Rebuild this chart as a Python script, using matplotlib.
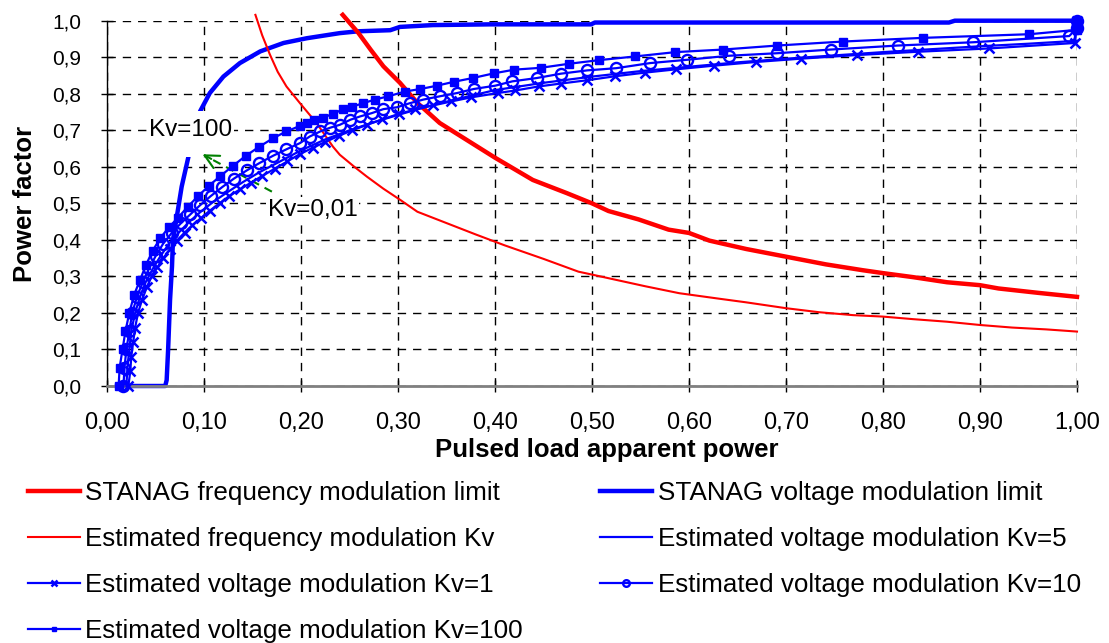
import matplotlib
matplotlib.use('Agg')
import matplotlib.pyplot as plt
from matplotlib.patches import Rectangle
import numpy as np

plt.rcParams['font.family'] = ['Liberation Sans', 'DejaVu Sans']

# STANAG limits
stanag_f_x = [0.243, 0.259, 0.272, 0.285, 0.302, 0.32, 0.343, 0.367, 0.4, 0.439, 0.474, 0.5,
              0.517, 0.548, 0.579, 0.6, 0.621, 0.659, 0.7, 0.741, 0.779, 0.8, 0.831, 0.866,
              0.9, 0.919, 0.96, 1.0]
stanag_f_y = [1.016, 0.967, 0.92, 0.875, 0.83, 0.775, 0.72, 0.68, 0.625, 0.564, 0.528, 0.5,
              0.479, 0.456, 0.428, 0.419, 0.398, 0.375, 0.354, 0.333, 0.317, 0.309, 0.298, 0.284,
              0.276, 0.267, 0.255, 0.244]

stanag_v_x = [0.0103, 0.03, 0.06, 0.0615, 0.063, 0.065, 0.067, 0.068, 0.072, 0.077, 0.084, 0.09,
              0.096, 0.106, 0.12, 0.137, 0.158, 0.182, 0.206, 0.24, 0.259, 0.292, 0.302, 0.336,
              0.395, 0.499, 0.503, 0.868, 0.874, 1.0]
stanag_v_y = [0.0, 0.0, 0.0, 0.016, 0.099, 0.236, 0.327, 0.40, 0.464, 0.546, 0.628, 0.69,
              0.752, 0.802, 0.847, 0.884, 0.916, 0.939, 0.952, 0.966, 0.971, 0.974, 0.983, 0.988,
              0.99, 0.99, 0.995, 0.995, 1.0, 1.0]

# estimated frequency modulation
est_f_x = [0.153, 0.16, 0.168, 0.176, 0.185, 0.199, 0.216, 0.233, 0.24, 0.255, 0.268, 0.285,
           0.302, 0.32, 0.35, 0.38, 0.41, 0.45, 0.486, 0.5, 0.555, 0.59, 0.631, 0.659, 0.7,
           0.734, 0.769, 0.8, 0.831, 0.866, 0.9, 0.933, 0.968, 1.0]
est_f_y = [1.016, 0.96, 0.907, 0.86, 0.82, 0.774, 0.72, 0.655, 0.633, 0.60, 0.573, 0.54,
           0.51, 0.477, 0.446, 0.415, 0.385, 0.348, 0.313, 0.305, 0.273, 0.254, 0.239, 0.229, 0.213,
           0.202, 0.194, 0.19, 0.183, 0.176, 0.167, 0.16, 0.155, 0.149]

# estimated voltage modulation
kv1_x = [0.022, 0.024, 0.025, 0.027, 0.029, 0.032, 0.036, 0.041, 0.046, 0.052, 0.058, 0.065,
         0.072, 0.080, 0.088, 0.097, 0.106, 0.116, 0.126, 0.137, 0.148, 0.160, 0.173, 0.186,
         0.199, 0.212, 0.225, 0.239, 0.253, 0.268, 0.284, 0.301, 0.318, 0.336, 0.355, 0.375,
         0.403, 0.421, 0.445, 0.468, 0.495, 0.524, 0.555, 0.587, 0.626, 0.669, 0.715, 0.773,
         0.836, 0.909, 0.998, 1.0]
kv1_y = [0.0, 0.04, 0.08, 0.12, 0.16, 0.20, 0.235, 0.27, 0.30, 0.325, 0.35, 0.375,
         0.398, 0.42, 0.44, 0.46, 0.48, 0.50, 0.52, 0.538, 0.556, 0.575, 0.595, 0.615,
         0.635, 0.652, 0.668, 0.685, 0.70, 0.715, 0.73, 0.745, 0.757, 0.768, 0.779, 0.79,
         0.802, 0.809, 0.82, 0.828, 0.837, 0.848, 0.858, 0.867, 0.877, 0.887, 0.896, 0.906,
         0.915, 0.924, 0.939, 1.0]

kv5_x = [0.02, 0.021, 0.023, 0.025, 0.029, 0.034, 0.04, 0.047, 0.055, 0.064, 0.074, 0.085,
         0.097, 0.11, 0.125, 0.14, 0.157, 0.175, 0.2, 0.225, 0.25, 0.275, 0.3, 0.33, 0.36,
         0.4, 0.45, 0.5, 0.55, 0.6, 0.65, 0.7, 0.75, 0.8, 0.85, 0.9, 0.95, 1.0]
kv5_y = [0.0, 0.05, 0.10, 0.15, 0.20, 0.245, 0.285, 0.32, 0.355, 0.39, 0.42, 0.45,
         0.478, 0.505, 0.532, 0.558, 0.585, 0.61, 0.645, 0.675, 0.70, 0.722, 0.742, 0.765, 0.785,
         0.81, 0.83, 0.847, 0.862, 0.874, 0.886, 0.896, 0.905, 0.914, 0.922, 0.93, 0.937, 0.945]

kv10_x = [0.017, 0.018, 0.020, 0.023, 0.026, 0.031, 0.037, 0.043, 0.050, 0.058, 0.067, 0.076,
          0.086, 0.096, 0.107, 0.119, 0.131, 0.144, 0.157, 0.171, 0.185, 0.199, 0.209, 0.22,
          0.23, 0.24, 0.251, 0.261, 0.273, 0.285, 0.299, 0.312, 0.326, 0.343, 0.361, 0.378,
          0.4, 0.418, 0.443, 0.468, 0.495, 0.525, 0.56, 0.598, 0.641, 0.691, 0.746, 0.815,
          0.893, 0.992, 1.0, 1.0]
kv10_y = [0.0, 0.05, 0.10, 0.15, 0.20, 0.245, 0.285, 0.32, 0.355, 0.39, 0.42, 0.445,
          0.47, 0.495, 0.52, 0.545, 0.568, 0.59, 0.61, 0.63, 0.648, 0.665, 0.683, 0.697,
          0.707, 0.715, 0.729, 0.738, 0.747, 0.758, 0.763, 0.774, 0.784, 0.793, 0.802, 0.813,
          0.822, 0.834, 0.843, 0.855, 0.864, 0.87, 0.884, 0.893, 0.904, 0.911, 0.921, 0.932,
          0.941, 0.958, 0.98, 1.0]

kv100_x = [0.012, 0.013, 0.016, 0.019, 0.023, 0.028, 0.034, 0.040, 0.047, 0.055, 0.064, 0.073,
           0.083, 0.094, 0.105, 0.117, 0.130, 0.143, 0.157, 0.171, 0.185, 0.199, 0.206, 0.213,
           0.223, 0.233, 0.243, 0.253, 0.264, 0.276, 0.29, 0.307, 0.323, 0.34, 0.358, 0.377,
           0.399, 0.42, 0.447, 0.476, 0.507, 0.544, 0.586, 0.635, 0.691, 0.759, 0.841, 0.951,
           1.0, 1.0, 1.0]
kv100_y = [0.0, 0.05, 0.10, 0.15, 0.20, 0.25, 0.29, 0.33, 0.37, 0.405, 0.435, 0.46,
           0.49, 0.52, 0.548, 0.575, 0.603, 0.63, 0.655, 0.678, 0.697, 0.712, 0.72, 0.727,
           0.735, 0.745, 0.757, 0.765, 0.774, 0.784, 0.793, 0.806, 0.813, 0.822, 0.833, 0.843,
           0.856, 0.866, 0.871, 0.882, 0.892, 0.902, 0.914, 0.921, 0.932, 0.943, 0.953, 0.963,
           0.975, 0.99, 1.0]

x_ticks = np.arange(0, 1.001, 0.1)
y_ticks = np.arange(0, 1.001, 0.1)

RED = '#FF0000'
BLUE = '#0000FF'

fig = plt.figure(figsize=(11.09, 6.43), dpi=100)
ax = fig.add_axes([107 / 1109, 1 - 386 / 643, 970 / 1109, 365.3 / 643])

h_fl, = ax.plot(stanag_f_x, stanag_f_y, color=RED, lw=3.2, clip_on=False, zorder=2.6,
                label='STANAG frequency modulation limit')
h_vl, = ax.plot(stanag_v_x, stanag_v_y, color=BLUE, lw=3.2, clip_on=False, zorder=2,
                label='STANAG voltage modulation limit')
h_ef, = ax.plot(est_f_x, est_f_y, color=RED, lw=1.5, clip_on=False, zorder=2.6,
                label='Estimated frequency modulation Kv')
h_k5, = ax.plot(kv5_x, kv5_y, color=BLUE, lw=1.6, clip_on=False, zorder=3,
                label='Estimated voltage modulation Kv=5')
h_k1, = ax.plot(kv1_x, kv1_y, color=BLUE, lw=1.6, marker='x', ms=7, mew=1.8,
                clip_on=False, zorder=3, label='Estimated voltage modulation Kv=1')
h_k10, = ax.plot(kv10_x, kv10_y, color=BLUE, lw=1.6, marker='o', ms=8, mew=1.7, mfc='none',
                 clip_on=False, zorder=3, label='Estimated voltage modulation Kv=10')
h_k100, = ax.plot(kv100_x, kv100_y, color=BLUE, lw=1.6, marker='s', ms=5.5, mew=1,
                  clip_on=False, zorder=3, label='Estimated voltage modulation Kv=100')

# annotation labels with white boxes
ax.add_patch(Rectangle((0.041, 0.628), 0.09, 0.124, facecolor='white', edgecolor='none', zorder=2.2))
ax.text(0.086, 0.701, 'Kv=100', fontsize=17.5, ha='center', va='center', zorder=2.3)
ax.text(0.212, 0.482, 'Kv=0,01', fontsize=17.5, ha='center', va='center', zorder=2.3,
        bbox=dict(facecolor='white', edgecolor='none', pad=1))
ax.plot([0.17, 0.1], [0.532, 0.632], color='green', lw=1.5, ls=(0, (4, 3)), zorder=2.4)
ax.annotate('', xy=(0.096, 0.638), xytext=(0.11, 0.618),
            arrowprops=dict(arrowstyle='->', color='green', lw=1.5, mutation_scale=25), zorder=2.4)

ax.set_xlim(0, 1)
ax.set_ylim(0, 1)
ax.set_xticks(x_ticks)
ax.set_xticklabels([f'{v:.2f}'.replace('.', ',') for v in x_ticks], fontsize=17)
ax.set_yticks(y_ticks)
ax.set_yticklabels([f'{v:.1f}'.replace('.', ',') for v in y_ticks], fontsize=15)
ax.tick_params(axis='both', direction='inout', length=9, width=1, color='black')
ax.tick_params(axis='x', pad=14)
ax.tick_params(axis='y', pad=14)

ax.grid(True, color='black', linestyle=(0, (6, 5)), linewidth=1)
ax.set_axisbelow(True)
for side in ('top', 'right'):
    ax.spines[side].set_visible(False)
ax.spines['left'].set_color('black')
ax.spines['left'].set_linewidth(1)
ax.spines['bottom'].set_color('#808080')
ax.spines['bottom'].set_linewidth(2)

ax.set_xlabel('Pulsed load apparent power', fontsize=18.5, fontweight='bold')
ax.xaxis.set_label_coords(0.515, -0.143)
fig.text(25 / 1109, 1 - 204 / 643, 'Power factor', fontsize=18.5, fontweight='bold',
         rotation=90, ha='center', va='center')

handles = [h_fl, h_ef, h_k1, h_k100, h_vl, h_k5, h_k10]
fig.legend(handles=handles, loc='upper left', bbox_to_anchor=(0.025, 0.252), ncol=2,
           frameon=False, fontsize=18.7, handlelength=2.0, handletextpad=0.2,
           columnspacing=3.0, labelspacing=0.85, borderpad=0, borderaxespad=0, markerscale=0.6)

fig.savefig('out.png', dpi=100)
plt.close(fig)
